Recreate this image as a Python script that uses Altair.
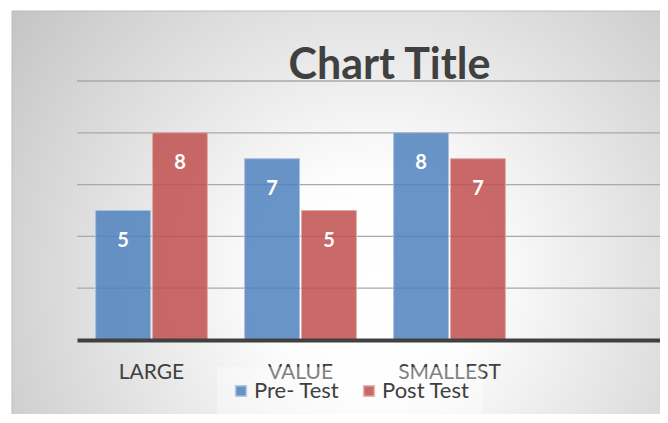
import altair as alt
import pandas as pd

# ---- data ----
categories = ["LARGE", "VALUE", "SMALLEST"]
pre_test = [5, 7, 8]
post_test = [8, 5, 7]
series_names = ["Pre- Test", "Post Test"]
axis_slots = categories + [" "]          # empty 4th slot (original is cropped on the right)
y_ticks = [2, 4, 6, 8, 10]

rows = []
for c, a, b in zip(categories, pre_test, post_test):
    rows.append({"category": c, "series": series_names[0], "value": a})
    rows.append({"category": c, "series": series_names[1], "value": b})
df = pd.DataFrame(rows)
grid_df = pd.DataFrame({"tick": y_ticks})

# ---- layout ----
W, H = 583, 259
PL, PT, PB = 69, 73, 74

fills = ["#4f81bd", "#c0504d"]
strokes = ["#a9c1de", "#e0aaa8"]

y_scale = alt.Scale(domain=[0, 10], nice=False)

x_enc = alt.X(
    "category:N",
    scale=alt.Scale(domain=axis_slots, range=[0, 596], paddingInner=0.25, paddingOuter=0.125),
    axis=alt.Axis(
        title=None, labelAngle=0, ticks=False, tickSize=0,
        labelFont="Lato", labelFontSize=21, labelColor="#404040",
        labelBaseline="alphabetic", labelPadding=38,
        domainColor="#404040", domainWidth=4, grid=False, zindex=1,
    ),
)
xoff_enc = alt.XOffset("series:N", scale=alt.Scale(domain=series_names, paddingInner=0.035))
y_enc = alt.Y("value:Q", scale=y_scale, axis=None)

bg = alt.Chart(alt.Data(values=[{"k": 1}])).mark_rect(
    fill=alt.RadialGradient(
        gradient="radial",
        stops=[
            alt.GradientStop(offset=0, color="#ffffff"),
            alt.GradientStop(offset=0.22, color="#fdfdfd"),
            alt.GradientStop(offset=1, color="#bdbdbd"),
        ],
        x1=0.55, y1=0.6, r1=0, x2=0.55, y2=0.6, r2=0.75,
    ),
    stroke="#bcbcbc", strokeWidth=1,
).encode(x=alt.value(-65), x2=alt.value(W + 12), y=alt.value(-70), y2=alt.value(H + PB + 6))

grid = alt.Chart(grid_df).mark_rule(color="#a9a9a9", strokeWidth=1.3).encode(
    y=alt.Y("tick:Q", scale=y_scale, axis=None),
    x=alt.value(0), x2=alt.value(W),
)

base = alt.Chart(df)

bars = base.mark_bar(fillOpacity=0.85, strokeWidth=1).encode(
    x=x_enc,
    xOffset=xoff_enc,
    y=y_enc,
    color=alt.Color(
        "series:N",
        scale=alt.Scale(domain=series_names, range=fills),
        legend=alt.Legend(
            orient="none", legendX=140, legendY=286, direction="horizontal",
            title=None, symbolType="square", symbolSize=115, symbolOpacity=0.85,
            labelFont="Lato", labelFontSize=22, labelColor="#404040",
            columnPadding=18, labelOffset=2, padding=13,
            fillColor="rgba(255,255,255,0.35)", zindex=2,
        ),
    ),
    stroke=alt.Stroke("series:N", scale=alt.Scale(domain=series_names, range=strokes), legend=None),
)

labels = base.mark_text(
    font="Lato", fontWeight="bold", fontSize=20, color="white",
    baseline="alphabetic", dy=36,
).encode(x=x_enc, xOffset=xoff_enc, y=y_enc, text="value:Q")

chart = alt.layer(bg, grid, bars, labels).properties(
    width=W, height=H,
    title=alt.Title(
        text="Chart Title", font="Lato", fontSize=43, fontWeight="bold", color="#404040",
        anchor="middle", frame="group", dx=21, offset=0, baseline="alphabetic", dy=111,
    ),
    autosize=alt.AutoSizeParams(type="none"),
    padding={"left": PL, "top": PT, "right": 0, "bottom": PB},
    background="white",
).configure_view(stroke=None)

chart.save("out.html", embed_options={"renderer": "svg", "actions": False})
